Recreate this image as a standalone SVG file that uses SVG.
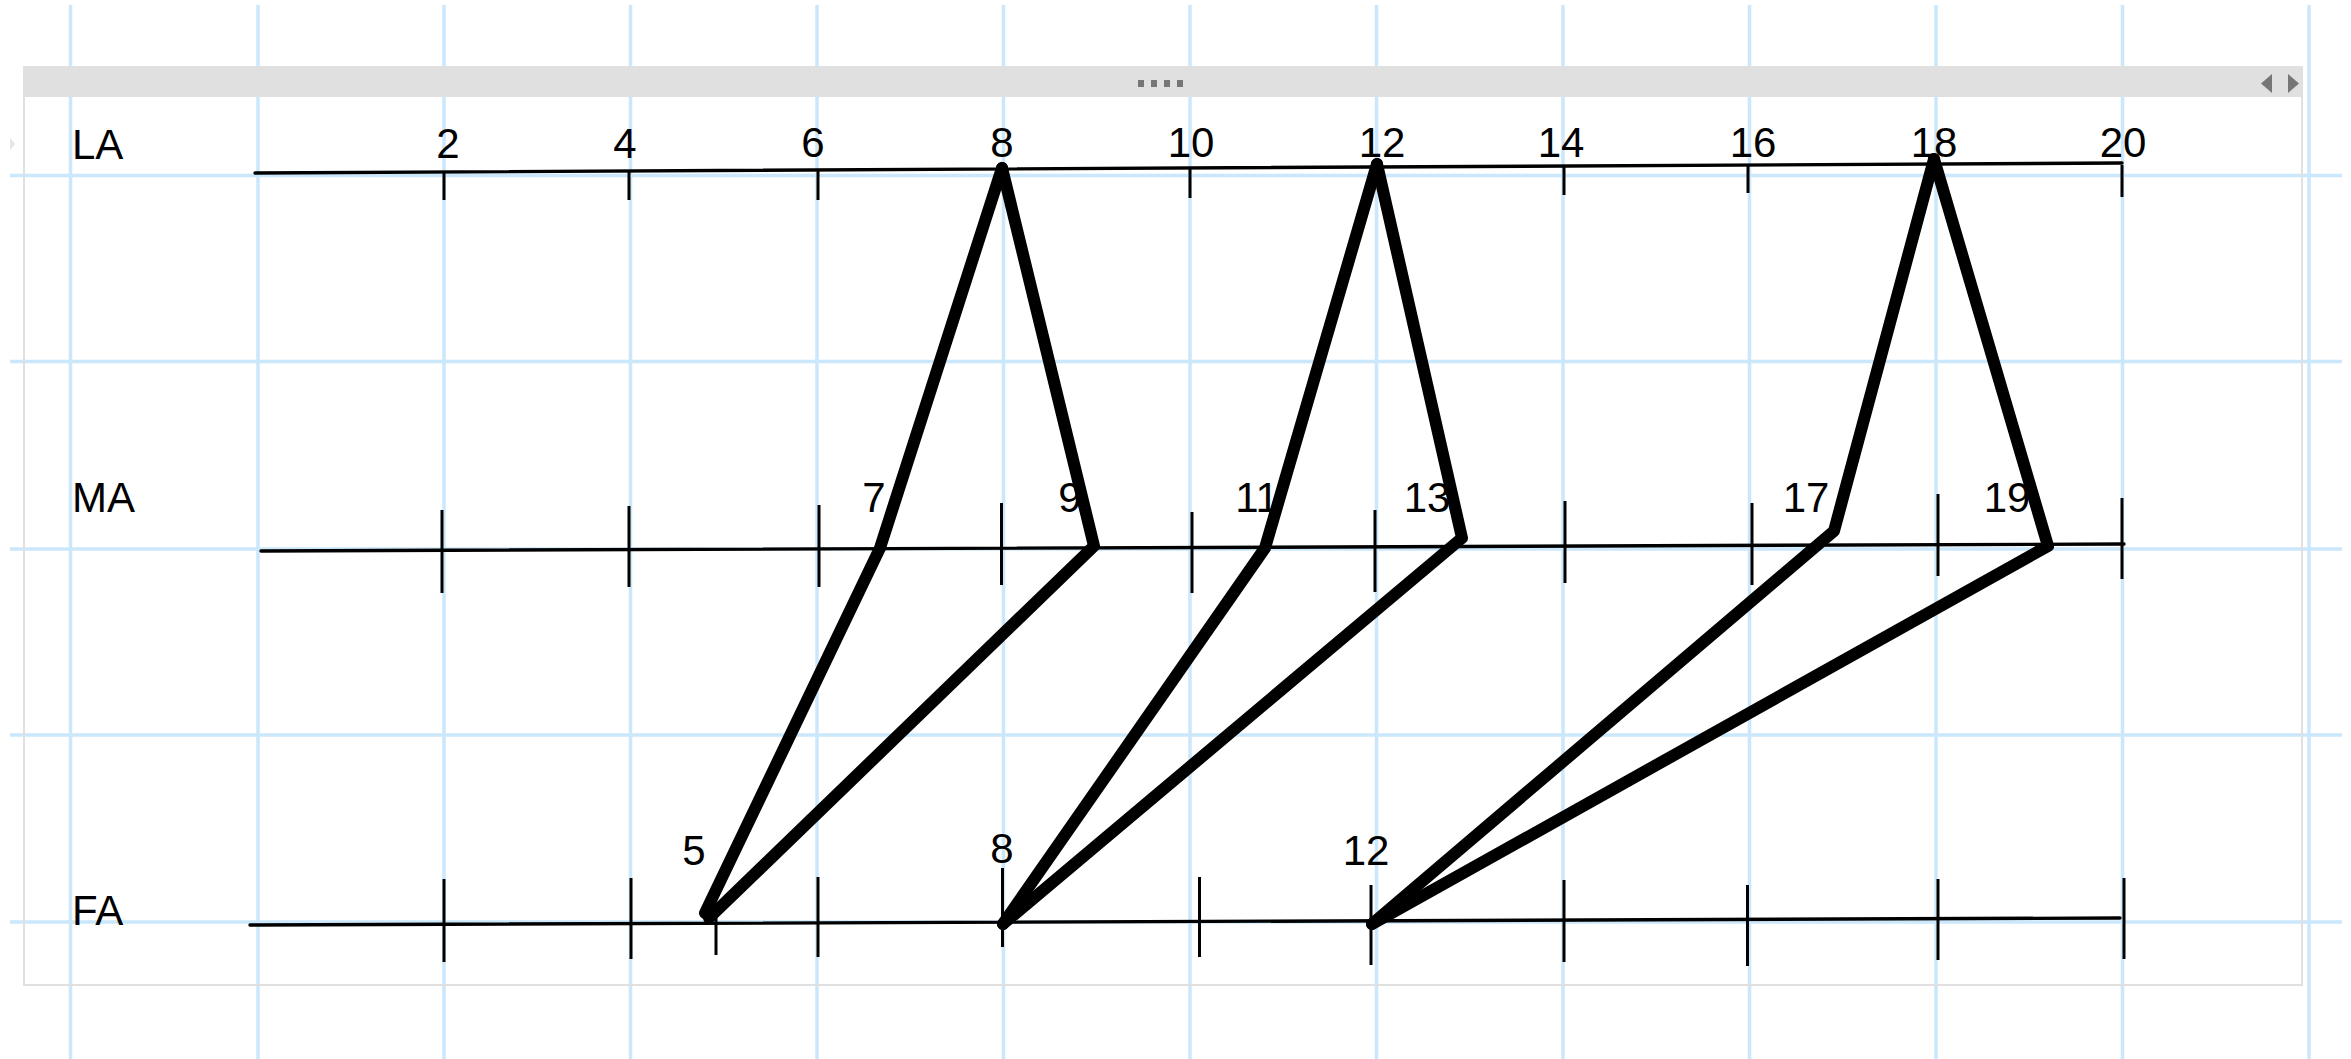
<svg xmlns="http://www.w3.org/2000/svg" width="2351" height="1059" viewBox="0 0 2351 1059">
  <style>
    .grid line { stroke: #cbe7fb; stroke-width: 3.5; }
    .axis { stroke: #000; stroke-width: 3.4; fill: none; stroke-linecap: round; }
    .tick { stroke: #000; stroke-width: 3; }
    .lbl { font-family: "Liberation Sans", Arial, sans-serif; font-size: 42px; fill: #000; text-anchor: middle; }
    .name { font-family: "Liberation Sans", Arial, sans-serif; font-size: 42px; fill: #000; }
    .conn { stroke: #000; stroke-width: 12; fill: none; stroke-linejoin: round; stroke-linecap: round; }
  </style>
  <rect x="0" y="0" width="2351" height="1059" fill="#fff"/>

  <g id="grid" class="grid">
    <line x1="70.5" y1="5" x2="70.5" y2="1059"/>
    <line x1="258" y1="5" x2="258" y2="1059"/>
    <line x1="444" y1="5" x2="444" y2="1059"/>
    <line x1="630.5" y1="5" x2="630.5" y2="1059"/>
    <line x1="817" y1="5" x2="817" y2="1059"/>
    <line x1="1003.5" y1="5" x2="1003.5" y2="1059"/>
    <line x1="1190" y1="5" x2="1190" y2="1059"/>
    <line x1="1376.5" y1="5" x2="1376.5" y2="1059"/>
    <line x1="1563" y1="5" x2="1563" y2="1059"/>
    <line x1="1749.5" y1="5" x2="1749.5" y2="1059"/>
    <line x1="1936" y1="5" x2="1936" y2="1059"/>
    <line x1="2122.5" y1="5" x2="2122.5" y2="1059"/>
    <line x1="2309" y1="5" x2="2309" y2="1059"/>
    <line x1="10" y1="175.5" x2="2342" y2="175.5"/>
    <line x1="10" y1="361.5" x2="2342" y2="361.5"/>
    <line x1="10" y1="549" x2="2342" y2="549"/>
    <line x1="10" y1="735" x2="2342" y2="735"/>
    <line x1="10" y1="922" x2="2342" y2="922"/>
  </g>

  <g id="panel">
    <rect x="24" y="67" width="2278" height="918" fill="none" stroke="#e0e0e0" stroke-width="2"/>
    <rect x="23" y="67" width="2279" height="30" fill="#e0e0e0"/>
    <g fill="#767676">
      <rect x="1138" y="80" width="6" height="7"/>
      <rect x="1151" y="80" width="6" height="7"/>
      <rect x="1164" y="80" width="6" height="7"/>
      <rect x="1177" y="80" width="6" height="7"/>
      <polygon points="2272,74 2272,93 2261,83.5"/>
      <polygon points="2288,74 2288,93 2299,83.5"/>
    </g>
    <polygon points="10,138 10,150 15,144" fill="#e4e4e4"/>
  </g>

  <g id="axis-LA">
    <line class="axis" x1="255" y1="173" x2="2122" y2="163"/>
    <line class="tick" x1="444" y1="172" x2="444" y2="200"/>
    <line class="tick" x1="629" y1="171" x2="629" y2="200"/>
    <line class="tick" x1="818" y1="170" x2="818" y2="200"/>
    <line class="tick" x1="1190" y1="168" x2="1190" y2="198"/>
    <line class="tick" x1="1564" y1="166" x2="1564" y2="195"/>
    <line class="tick" x1="1748" y1="165" x2="1748" y2="193"/>
    <line class="tick" x1="2122" y1="165" x2="2122" y2="197"/>
    <text class="name" x="72" y="159">LA</text>
    <text class="lbl" x="448" y="158">2</text>
    <text class="lbl" x="625" y="158">4</text>
    <text class="lbl" x="813" y="157">6</text>
    <text class="lbl" x="1002" y="157">8</text>
    <text class="lbl" x="1191" y="157">10</text>
    <text class="lbl" x="1382" y="157">12</text>
    <text class="lbl" x="1561" y="157">14</text>
    <text class="lbl" x="1753" y="157">16</text>
    <text class="lbl" x="1934" y="157">18</text>
    <text class="lbl" x="2123" y="157">20</text>
  </g>

  <g id="axis-MA">
    <line class="axis" x1="261" y1="551" x2="2124" y2="544"/>
    <line class="tick" x1="442" y1="510" x2="442" y2="593"/>
    <line class="tick" x1="629" y1="506" x2="629" y2="587"/>
    <line class="tick" x1="819" y1="505" x2="819" y2="587"/>
    <line class="tick" x1="1001.5" y1="503" x2="1001.5" y2="585"/>
    <line class="tick" x1="1192" y1="512" x2="1192" y2="593"/>
    <line class="tick" x1="1375" y1="510" x2="1375" y2="592"/>
    <line class="tick" x1="1565" y1="501" x2="1565" y2="583"/>
    <line class="tick" x1="1752" y1="503" x2="1752" y2="585"/>
    <line class="tick" x1="1938" y1="494" x2="1938" y2="576"/>
    <line class="tick" x1="2122" y1="498" x2="2122" y2="579"/>
    <text class="name" x="72" y="512">MA</text>
    <text class="lbl" x="874" y="512">7</text>
    <text class="lbl" x="1070" y="512">9</text>
    <text class="lbl" x="1257" y="512">11</text>
    <text class="lbl" x="1427" y="512">13</text>
    <text class="lbl" x="1806" y="512">17</text>
    <text class="lbl" x="2007" y="512">19</text>
  </g>

  <g id="axis-FA">
    <line class="axis" x1="250" y1="925" x2="2120" y2="918"/>
    <line class="tick" x1="444" y1="879" x2="444" y2="962"/>
    <line class="tick" x1="631" y1="878" x2="631" y2="959"/>
    <line class="tick" x1="716" y1="915" x2="716" y2="955"/>
    <line class="tick" x1="818" y1="877" x2="818" y2="957"/>
    <line class="tick" x1="1002.5" y1="868" x2="1002.5" y2="947"/>
    <line class="tick" x1="1199.5" y1="877" x2="1199.5" y2="957"/>
    <line class="tick" x1="1371" y1="885" x2="1371" y2="965"/>
    <line class="tick" x1="1564" y1="880" x2="1564" y2="962"/>
    <line class="tick" x1="1747.5" y1="885" x2="1747.5" y2="966"/>
    <line class="tick" x1="1938" y1="879" x2="1938" y2="960"/>
    <line class="tick" x1="2124" y1="878" x2="2124" y2="959"/>
    <text class="name" x="72" y="925">FA</text>
    <text class="lbl" x="694" y="865">5</text>
    <text class="lbl" x="1002" y="863">8</text>
    <text class="lbl" x="1366" y="865">12</text>
  </g>

  <g id="connectors">
    <polyline class="conn" points="1002,168 880,548 705,913"/>
    <polyline class="conn" points="1002,168 1094,546 709,918"/>
    <polyline class="conn" points="1377,164 1265,548 1003,924"/>
    <polyline class="conn" points="1377,164 1462,538 1003,924"/>
    <polyline class="conn" points="1934,159 1834,531 1372,924"/>
    <polyline class="conn" points="1934,159 2048,546 1372,924"/>
  </g>
</svg>
